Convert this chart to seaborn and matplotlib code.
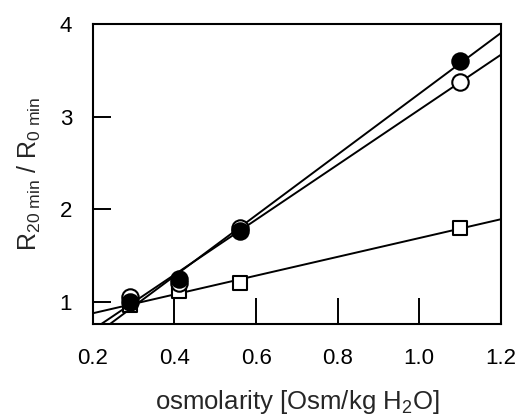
import numpy as np
import pandas as pd
import matplotlib
matplotlib.use("Agg")
import matplotlib.pyplot as plt
import seaborn as sns

# osmolarity [Osm/kg H2O]
osm = [0.29, 0.41, 0.56, 1.10]
filled = [1.00, 1.25, 1.76, 3.60]
opened = [1.05, 1.20, 1.80, 3.38]
squares = [0.97, 1.12, 1.20, 1.80]

sns.set_style("ticks")
plt.rcParams["font.family"] = ["Liberation Sans", "DejaVu Sans"]
plt.rcParams["mathtext.fontset"] = "custom"
plt.rcParams["mathtext.rm"] = "Liberation Sans"
plt.rcParams["mathtext.it"] = "Liberation Sans"

fig, ax = plt.subplots(figsize=(5.19, 4.17), dpi=100)
fig.subplots_adjust(left=0.179, right=0.965, top=0.942, bottom=0.223)

ax.set_xlim(0.2, 1.2)
ax.set_ylim(0.76, 4.0)

df = pd.DataFrame({"osm": osm, "filled": filled, "open": opened, "sq": squares})
line_kw = dict(color="black", lw=1.4)

sns.regplot(x="osm", y="sq", data=df, ax=ax, ci=None, truncate=False,
            marker="s", color="black",
            scatter_kws=dict(s=110, facecolors="white", edgecolors="black",
                             linewidths=1.5, alpha=1, zorder=3),
            line_kws=line_kw)
sns.regplot(x="osm", y="open", data=df, ax=ax, ci=None, truncate=False,
            marker="o", color="black",
            scatter_kws=dict(s=140, facecolors="white", edgecolors="black",
                             linewidths=1.5, alpha=1, zorder=4),
            line_kws=line_kw)
sns.regplot(x="osm", y="filled", data=df, ax=ax, ci=None, truncate=False,
            marker="o", color="black",
            scatter_kws=dict(s=140, facecolors="black", edgecolors="black",
                             linewidths=1.5, alpha=1, zorder=5),
            line_kws=line_kw)

ax.set_xlim(0.2, 1.2)
ax.set_ylim(0.76, 4.0)
ax.set_xticks([0.2, 0.4, 0.6, 0.8, 1.0, 1.2])
ax.set_xticklabels(["0.2", "0.4", "0.6", "0.8", "1.0", "1.2"])
ax.set_yticks([1, 2, 3, 4])

for s in ax.spines.values():
    s.set_visible(True)
    s.set_linewidth(1.5)
    s.set_color("black")

ax.tick_params(axis="x", direction="in", length=19, width=1.4, labelsize=16, pad=17, colors="black")
ax.tick_params(axis="y", direction="in", length=13, width=1.4, labelsize=16, pad=15, colors="black")

ax.set_xlabel(r"osmolarity [Osm/kg H$_2$O]", fontsize=18.5, labelpad=14)
ax.set_ylabel(r"R$_{\mathrm{20\ min}}$ / R$_{\mathrm{0\ min}}$", fontsize=18, labelpad=12)

fig.savefig("out.png", dpi=100)
